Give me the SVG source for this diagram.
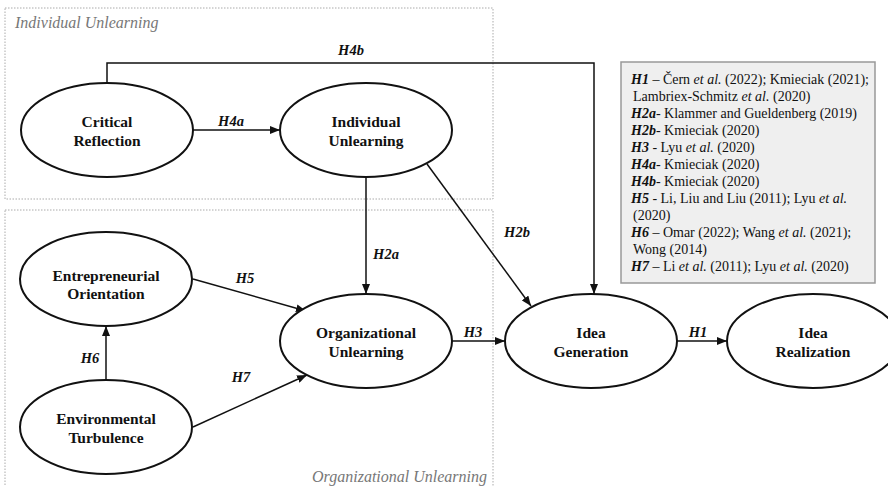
<svg xmlns="http://www.w3.org/2000/svg" width="888" height="486" viewBox="0 0 888 486" font-family="Liberation Serif, Times New Roman, serif">
<defs>
<marker id="arr" markerWidth="10" markerHeight="8" refX="10" refY="4" orient="auto" markerUnits="userSpaceOnUse">
<path d="M0,0 L10,4 L0,8 Z" fill="#111"/>
</marker>
</defs>
<rect width="888" height="486" fill="#fff"/>
<g id="group-individual">
<rect x="5" y="8" width="488" height="191" fill="none" stroke="#aaa" stroke-width="1" stroke-dasharray="1.5 1.5"/>
<text x="15" y="28" font-family="Liberation Serif, Times New Roman, serif" font-style="italic" font-size="16" fill="#777">Individual Unlearning</text>
</g>
<g id="group-organizational">
<rect x="5" y="210" width="488" height="290" fill="none" stroke="#aaa" stroke-width="1" stroke-dasharray="1.5 1.5"/>
<text x="487" y="482" text-anchor="end" font-family="Liberation Serif, Times New Roman, serif" font-style="italic" font-size="16" fill="#777">Organizational Unlearning</text>
</g>
<g id="connectors" fill="none" stroke="#111" stroke-width="1.5">
<path d="M107,83 V63 H594 V294" marker-end="url(#arr)"/>
<path d="M193,130 H280" marker-end="url(#arr)"/>
<path d="M366,177 V294" marker-end="url(#arr)"/>
<path d="M427,164 L531,306" marker-end="url(#arr)"/>
<path d="M193,279 L306,311" marker-end="url(#arr)"/>
<path d="M193,427 L307,375" marker-end="url(#arr)"/>
<path d="M106,380 V326" marker-end="url(#arr)"/>
<path d="M452,341 H505" marker-end="url(#arr)"/>
<path d="M677,341 H727" marker-end="url(#arr)"/>
<g font-weight="bold" font-style="italic" font-size="14.5" fill="#111" stroke="none" text-anchor="middle">
<text x="351" y="55" font-family="Liberation Serif, Times New Roman, serif">H4b</text>
<text x="231" y="126" font-family="Liberation Serif, Times New Roman, serif">H4a</text>
<text x="386" y="259" font-family="Liberation Serif, Times New Roman, serif">H2a</text>
<text x="517" y="237" font-family="Liberation Serif, Times New Roman, serif">H2b</text>
<text x="245" y="283" font-family="Liberation Serif, Times New Roman, serif">H5</text>
<text x="241" y="382" font-family="Liberation Serif, Times New Roman, serif">H7</text>
<text x="90" y="363" font-family="Liberation Serif, Times New Roman, serif">H6</text>
<text x="473" y="337" font-family="Liberation Serif, Times New Roman, serif">H3</text>
<text x="698" y="337" font-family="Liberation Serif, Times New Roman, serif">H1</text>
</g>
</g>
<g id="nodes" font-weight="bold" font-size="15.5" text-anchor="middle">
<g id="node-critical">
<ellipse cx="107" cy="130" rx="86" ry="47" fill="#fff" stroke="#111" stroke-width="2"/>
<text x="107" y="127" fill="#111" font-family="Liberation Serif, Times New Roman, serif">Critical</text>
<text x="107" y="146" fill="#111" font-family="Liberation Serif, Times New Roman, serif">Reflection</text>
</g>
<g id="node-individual">
<ellipse cx="366" cy="130" rx="86" ry="47" fill="#fff" stroke="#111" stroke-width="2"/>
<text x="366" y="127" fill="#111" font-family="Liberation Serif, Times New Roman, serif">Individual</text>
<text x="366" y="146" fill="#111" font-family="Liberation Serif, Times New Roman, serif">Unlearning</text>
</g>
<g id="node-entrepreneurial">
<ellipse cx="106" cy="279" rx="86" ry="47" fill="#fff" stroke="#111" stroke-width="2"/>
<text x="106" y="281" fill="#111" font-family="Liberation Serif, Times New Roman, serif">Entrepreneurial</text>
<text x="106" y="299" fill="#111" font-family="Liberation Serif, Times New Roman, serif">Orientation</text>
</g>
<g id="node-environmental">
<ellipse cx="106" cy="427" rx="86" ry="47" fill="#fff" stroke="#111" stroke-width="2"/>
<text x="106" y="424" fill="#111" font-family="Liberation Serif, Times New Roman, serif">Environmental</text>
<text x="106" y="443" fill="#111" font-family="Liberation Serif, Times New Roman, serif">Turbulence</text>
</g>
<g id="node-organizational">
<ellipse cx="366" cy="341" rx="86" ry="47" fill="#fff" stroke="#111" stroke-width="2"/>
<text x="366" y="338" fill="#111" font-family="Liberation Serif, Times New Roman, serif">Organizational</text>
<text x="366" y="357" fill="#111" font-family="Liberation Serif, Times New Roman, serif">Unlearning</text>
</g>
<g id="node-ideagen">
<ellipse cx="591" cy="341" rx="86" ry="47" fill="#fff" stroke="#111" stroke-width="2"/>
<text x="591" y="338" fill="#111" font-family="Liberation Serif, Times New Roman, serif">Idea</text>
<text x="591" y="357" fill="#111" font-family="Liberation Serif, Times New Roman, serif">Generation</text>
</g>
<g id="node-idearea">
<ellipse cx="813" cy="341" rx="86" ry="47" fill="#fff" stroke="#111" stroke-width="2"/>
<text x="813" y="338" fill="#111" font-family="Liberation Serif, Times New Roman, serif">Idea</text>
<text x="813" y="357" fill="#111" font-family="Liberation Serif, Times New Roman, serif">Realization</text>
</g>
</g>
<g id="references">
<rect x="621" y="62" width="254" height="221" fill="#efefef" stroke="#999" stroke-width="1.5"/>
<text font-family="Liberation Serif, Times New Roman, serif" font-size="14" fill="#111">
<tspan x="631" y="84"><tspan font-weight="bold" font-style="italic">H1</tspan> &#8211; &#268;ern <tspan font-style="italic">et al.</tspan> (2022); Kmieciak (2021);</tspan>
<tspan x="633" y="101">Lambriex-Schmitz <tspan font-style="italic">et al.</tspan> (2020)</tspan>
<tspan x="631" y="118"><tspan font-weight="bold" font-style="italic">H2a</tspan>- Klammer and Gueldenberg (2019)</tspan>
<tspan x="631" y="135"><tspan font-weight="bold" font-style="italic">H2b</tspan>- Kmieciak (2020)</tspan>
<tspan x="631" y="152"><tspan font-weight="bold" font-style="italic">H3</tspan> - Lyu <tspan font-style="italic">et al.</tspan> (2020)</tspan>
<tspan x="631" y="169"><tspan font-weight="bold" font-style="italic">H4a</tspan>- Kmieciak (2020)</tspan>
<tspan x="631" y="186"><tspan font-weight="bold" font-style="italic">H4b</tspan>- Kmieciak (2020)</tspan>
<tspan x="631" y="203"><tspan font-weight="bold" font-style="italic">H5</tspan> - Li, Liu and Liu (2011); Lyu <tspan font-style="italic">et al.</tspan></tspan>
<tspan x="633" y="220">(2020)</tspan>
<tspan x="631" y="237"><tspan font-weight="bold" font-style="italic">H6</tspan> &#8211; Omar (2022); Wang <tspan font-style="italic">et al.</tspan> (2021);</tspan>
<tspan x="633" y="254">Wong (2014)</tspan>
<tspan x="631" y="271"><tspan font-weight="bold" font-style="italic">H7</tspan> &#8211; Li <tspan font-style="italic">et al.</tspan> (2011); Lyu <tspan font-style="italic">et al.</tspan> (2020)</tspan>
</text>
</g>
</svg>
